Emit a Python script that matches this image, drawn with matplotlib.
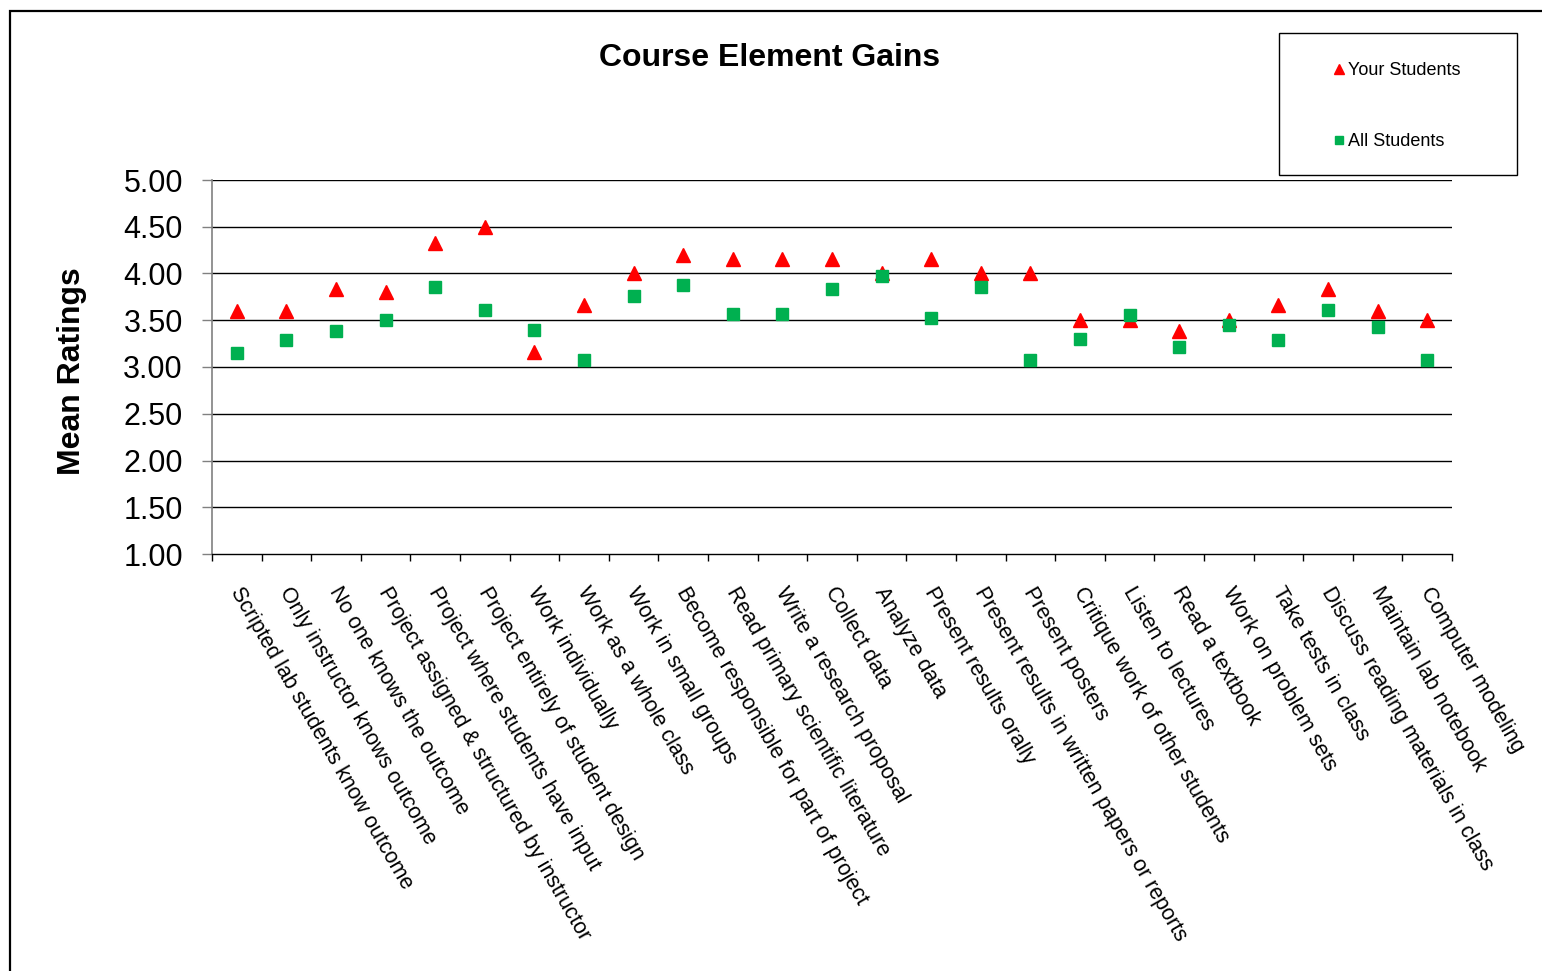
import matplotlib
matplotlib.use("Agg")
import matplotlib.pyplot as plt
from matplotlib.patches import Rectangle
from matplotlib.ticker import FixedLocator, NullFormatter
from matplotlib.transforms import ScaledTranslation
import numpy as np

plt.rcParams['font.family'] = ['Liberation Sans', 'DejaVu Sans']

categories = [
    "Scripted lab students know outcome",
    "Only instructor knows outcome",
    "No one knows the outcome",
    "Project assigned & structured by instructor",
    "Project where students have input",
    "Project entirely of student design",
    "Work individually",
    "Work as a whole class",
    "Work in small groups",
    "Become responsible for part of project",
    "Read primary scientific literature",
    "Write a research proposal",
    "Collect data",
    "Analyze data",
    "Present results orally",
    "Present results in written papers or reports",
    "Present posters",
    "Critique work of other students",
    "Listen to lectures",
    "Read a textbook",
    "Work on problem sets",
    "Take tests in class",
    "Discuss reading materials in class",
    "Maintain lab notebook",
    "Computer modeling",
]
your_students = [3.60, 3.60, 3.83, 3.80, 4.33, 4.50, 3.16, 3.66, 4.00, 4.20,
                 4.16, 4.16, 4.16, 4.00, 4.16, 4.00, 4.00, 3.50, 3.50, 3.39,
                 3.50, 3.66, 3.83, 3.60, 3.50]
all_students = [3.15, 3.29, 3.39, 3.50, 3.86, 3.61, 3.40, 3.07, 3.76, 3.88,
                3.57, 3.57, 3.83, 3.97, 3.52, 3.86, 3.08, 3.30, 3.56, 3.21,
                3.45, 3.29, 3.61, 3.43, 3.08]
y_ticks = [1.00, 1.50, 2.00, 2.50, 3.00, 3.50, 4.00, 4.50, 5.00]

W, H = 1542, 971
fig = plt.figure(figsize=(W / 100, H / 100), dpi=100)
fig.patch.set_facecolor('white')

# outer border (cut off at right/bottom)
fig.patches.append(Rectangle((10 / W, -0.05), 1.2, 1 - 11 / H + 0.05,
                             transform=fig.transFigure, fill=False,
                             edgecolor='black', linewidth=1.6))

ax = fig.add_axes([212 / W, 1 - 554 / H, (1452 - 212) / W, (554 - 180) / H])
x = np.arange(len(categories))

ax.set_xlim(-0.5, len(categories) - 0.5)
ax.set_ylim(1.0, 5.0)

for yv in y_ticks[1:]:
    ax.axhline(yv, color='black', linewidth=1.0, zorder=1)

ax.plot(x, all_students, linestyle='none', marker='s', markersize=9,
        color='#00B050', zorder=3, label='All Students')
ax.plot(x, your_students, linestyle='none', marker='^', markersize=9.5,
        color='#FF0000', zorder=2, label='Your Students')

for s in ['top', 'right']:
    ax.spines[s].set_visible(False)
ax.spines['left'].set_color('#808080')
ax.spines['left'].set_linewidth(1.2)
ax.spines['bottom'].set_color('black')
ax.spines['bottom'].set_linewidth(1.0)

ax.set_yticks(y_ticks)
ax.set_yticklabels([f"{v:.2f}" for v in y_ticks])
ax.tick_params(axis='y', direction='out', length=7, width=1, color='#808080',
               labelsize=22, pad=14)

ax.xaxis.set_major_locator(FixedLocator(np.arange(-0.5, len(categories), 1.0)))
ax.xaxis.set_major_formatter(NullFormatter())
ax.xaxis.set_minor_locator(FixedLocator(x))
ax.set_xticks(x, minor=True)
ax.set_xticklabels(categories, minor=True, rotation=-60, ha='left', va='top',
                   rotation_mode='anchor', fontsize=15.5)
ax.tick_params(axis='x', which='major', direction='out', length=5, width=1,
               color='black')
ax.tick_params(axis='x', which='minor', length=0, pad=21)
offset = ScaledTranslation(7 / 100, 0, fig.dpi_scale_trans)
for lbl in ax.xaxis.get_minorticklabels():
    lbl.set_transform(lbl.get_transform() + offset)

fig.text(770 / W, 1 - 58 / H, "Course Element Gains", ha='center', va='center',
         fontsize=23, fontweight='bold')
fig.text(72 / W, 1 - 371 / H, "Mean Ratings", ha='center', va='center',
         rotation=90, fontsize=23, fontweight='bold')

# legend box
fig.patches.append(Rectangle((1279 / W, 1 - 175 / H), (1517 - 1279) / W,
                             (175 - 33) / H, transform=fig.transFigure,
                             fill=False, edgecolor='black', linewidth=1.0))
handles, labels = ax.get_legend_handles_labels()
leg = fig.legend(handles[::-1], labels[::-1], loc='center',
                 bbox_to_anchor=(1397 / W, 1 - 106 / H), frameon=False,
                 fontsize=13, labelspacing=3.0, handlelength=0.6,
                 handletextpad=0.2, markerscale=0.7)

fig.savefig("out.png", dpi=100)
